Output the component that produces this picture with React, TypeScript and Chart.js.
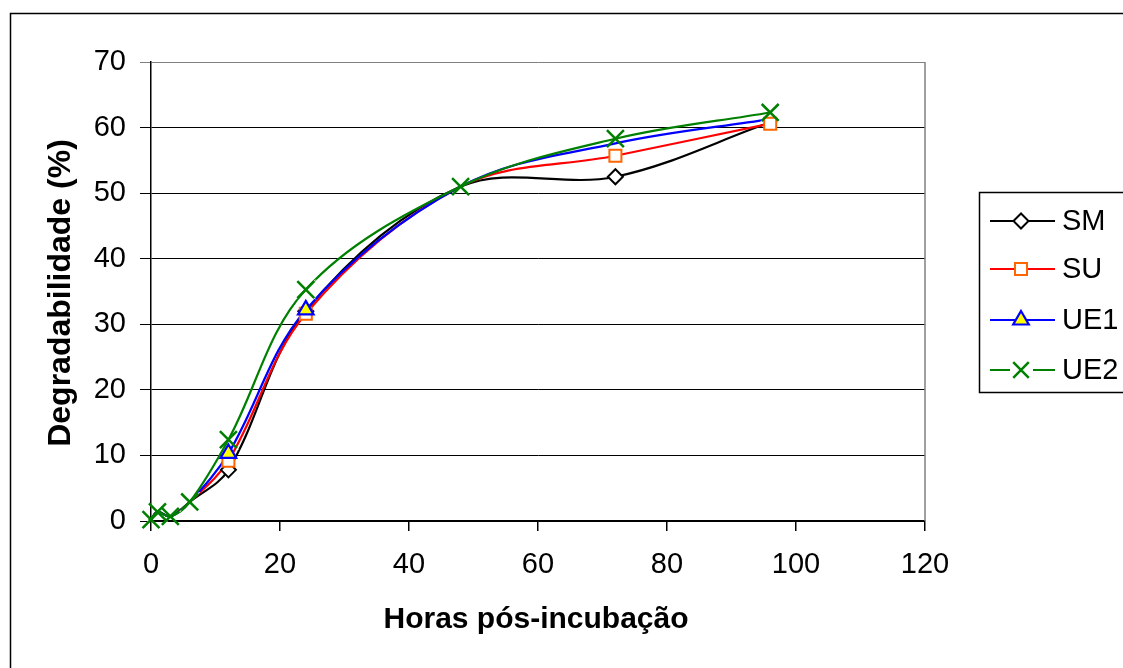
import React, { useEffect, useRef } from "react";
import { Chart, registerables } from "chart.js";
import { drawPoint } from "chart.js/helpers";

Chart.register(...registerables);

const hours = [0, 1, 3, 6, 12, 24, 48, 72, 96];
const seriesSM = [0.2, 1.4, 0.7, 2.9, 7.8, 32.0, 51.0, 52.5, 60.8];
const seriesSU = [0.2, 1.4, 0.7, 2.9, 9.2, 31.6, 51.0, 55.7, 60.6];
const seriesUE1 = [0.2, 1.4, 0.7, 2.9, 10.3, 32.2, 51.0, 57.6, 61.3];
const seriesUE2 = [0.2, 1.4, 0.7, 2.9, 12.4, 35.3, 51.0, 58.3, 62.3];
const seriesNames = ["SM", "SU", "UE1", "UE2"];
const xTitle = "Horas pós-incubação";
const yTitle = "Degradabilidade (%)";

// markers that show in the reference (others are covered by neighbouring markers)
const markerShown = [
  [0, 0, 0, 0, 1, 1, 0, 1, 0],
  [0, 0, 0, 0, 1, 1, 0, 1, 1],
  [0, 0, 0, 0, 1, 1, 0, 0, 0],
  [1, 1, 1, 1, 1, 1, 1, 1, 1],
];

const FONT = "'Liberation Sans', Arial, sans-serif";

const styles = [
  { line: "#000000", border: "#000000", fill: "#FFFFFF", point: "rectRot", radius: 7.5, bw: 2 },
  { line: "#FF0000", border: "#FF6600", fill: "#FFFFFF", point: "rect", radius: 8.5, bw: 2 },
  { line: "#0000FF", border: "#0000FF", fill: "#FFFF00", point: "triangle", radius: 9, bw: 2.2 },
  { line: "#008000", border: "#008000", fill: "#008000", point: "crossRot", radius: 12, bw: 2.5 },
];

const haloPlugin = {
  id: "halo",
  afterDatasetsDraw(chart: any) {
    const { ctx } = chart;
    ctx.save();
    const meta = chart.getDatasetMeta(3);
    ctx.strokeStyle = "#FFFFFF";
    ctx.fillStyle = "#FFFFFF";
    meta.data.forEach((pt: any) => {
      drawPoint(ctx, { pointStyle: "crossRot", radius: 14, rotation: 0, borderWidth: 8 } as any, pt.x, pt.y);
    });
    ctx.restore();
    for (let d = 0; d < 4; d++) {
      const m = chart.getDatasetMeta(d);
      m.data.forEach((pt: any, j: number) => {
        if (!markerShown[d][j]) return;
        ctx.save();
        ctx.fillStyle = styles[d].fill;
        ctx.strokeStyle = styles[d].border;
        ctx.lineWidth = styles[d].bw;
        drawPoint(ctx, { pointStyle: styles[d].point, radius: styles[d].radius, rotation: 0, borderWidth: styles[d].bw } as any, pt.x, pt.y);
        ctx.restore();
      });
    }
  },
};

const decorPlugin = {
  id: "decor",
  afterDraw(chart: any) {
    const { ctx, chartArea } = chart;
    ctx.save();
    ctx.strokeStyle = "#808080";
    ctx.lineWidth = 1.5;
    ctx.beginPath();
    ctx.moveTo(chartArea.right, chartArea.top);
    ctx.lineTo(chartArea.right, chartArea.bottom);
    ctx.stroke();
    ctx.strokeStyle = "#000";
    ctx.lineWidth = 1.5;
    ctx.strokeRect(10.5, 13.5, 1300, 800);
    ctx.fillStyle = "#000";
    ctx.textAlign = "center";
    ctx.textBaseline = "middle";
    ctx.font = `bold 30px ${FONT}`;
    ctx.fillText(xTitle, 536, 620);
    ctx.save();
    ctx.translate(61, 293);
    ctx.rotate(-Math.PI / 2);
    ctx.font = `bold 32px ${FONT}`;
    ctx.fillText(yTitle, 0, 0);
    ctx.restore();
    ctx.lineWidth = 1.5;
    ctx.strokeStyle = "#000";
    ctx.strokeRect(979.5, 192.5, 300, 200);
    const ys = [221, 269, 320, 370];
    ctx.font = `29px ${FONT}`;
    ctx.textAlign = "left";
    seriesNames.forEach((name, i) => {
      const s = styles[i];
      const y = ys[i];
      ctx.strokeStyle = s.line;
      ctx.lineWidth = 2;
      ctx.beginPath();
      if (i === 3) {
        ctx.moveTo(990, y);
        ctx.lineTo(1010, y);
        ctx.moveTo(1033, y);
        ctx.lineTo(1055, y);
      } else {
        ctx.moveTo(990, y);
        ctx.lineTo(1055, y);
      }
      ctx.stroke();
      ctx.fillStyle = s.fill;
      ctx.strokeStyle = s.border;
      ctx.lineWidth = s.bw;
      drawPoint(ctx, { pointStyle: s.point, radius: i === 3 ? 11 : s.radius, rotation: 0, borderWidth: s.bw } as any, 1021, y);
      ctx.fillStyle = "#000";
      ctx.textBaseline = "middle";
      ctx.fillText(name, 1062, y + 1);
    });
    ctx.restore();
  },
};

export default function App() {
  const ref = useRef<HTMLCanvasElement>(null);
  useEffect(() => {
    const allSeries = [seriesSM, seriesSU, seriesUE1, seriesUE2];
    const chart = new Chart(ref.current!, {
      type: "line",
      data: {
        labels: hours,
        datasets: allSeries.map((vals, i) => ({
          label: seriesNames[i],
          data: vals.map((v, j) => ({ x: hours[j], y: v })),
          borderColor: styles[i].line,
          borderWidth: 2.2,
          pointStyle: styles[i].point as any,
          pointRadius: 0,
          pointHoverRadius: 0,
          tension: 0.35,
          fill: false,
          order: 3 - i,
          clip: false as any,
        })),
      },
      options: {
        responsive: false,
        animation: false,
        devicePixelRatio: 1,
        layout: { padding: { left: 0, top: 62, right: 198, bottom: 0 } },
        plugins: { legend: { display: false }, tooltip: { enabled: false } },
        scales: {
          x: {
            type: "linear",
            min: 0,
            max: 120,
            ticks: { stepSize: 20, color: "#000", font: { family: FONT, size: 29 }, padding: 17, maxRotation: 0 },
            grid: { drawOnChartArea: false, drawTicks: true, tickLength: 10, color: "#000", lineWidth: 1.5 },
            border: { color: "#000", width: 1.5 },
            afterFit: (s: any) => { s.height = 147; },
          },
          y: {
            min: 0,
            max: 70,
            ticks: { stepSize: 10, color: "#000", font: { family: FONT, size: 29 }, padding: 14 },
            grid: {
              tickLength: 11,
              color: (c: any) => (c.tick && c.tick.value === 70 ? "#808080" : "#000"),
              lineWidth: 1,
            },
            border: { color: "#000", width: 1.5 },
            afterFit: (s: any) => { s.width = 151; },
          },
        },
      },
      plugins: [haloPlugin, decorPlugin],
    });
    return () => chart.destroy();
  }, []);
  return (
    <div style={{ position: "fixed", left: 0, top: 0, width: 1123, height: 668, background: "#fff" }}>
      <canvas ref={ref} width={1123} height={668} />
    </div>
  );
}
